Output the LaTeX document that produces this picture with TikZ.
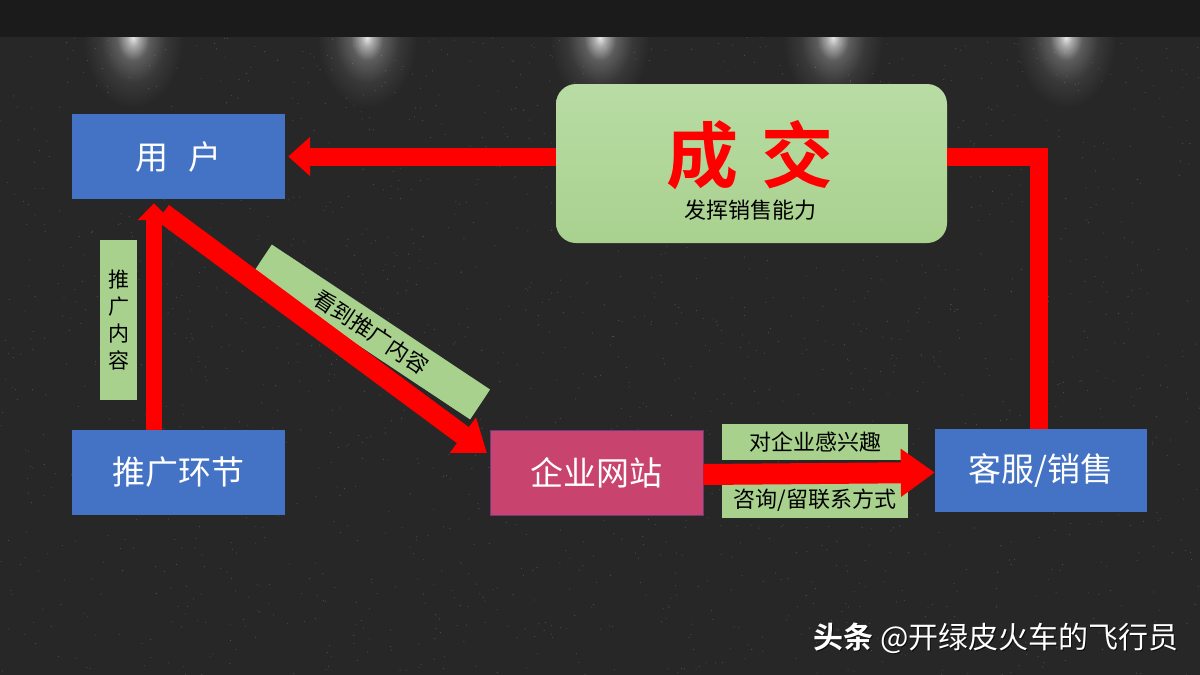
\documentclass[tikz,border=0pt]{standalone}
\usepackage{fontspec}
\setmainfont{Noto Sans CJK SC}[BoldFont={Noto Sans CJK SC Bold}]
\usetikzlibrary{arrows.meta}
\definecolor{bgc}{HTML}{272727}
\definecolor{topc}{HTML}{1B1B1B}
\definecolor{blueC}{HTML}{4472C4}
\definecolor{pinkC}{HTML}{C9436F}
\definecolor{greenC}{HTML}{A9D18E}
\definecolor{greenL}{HTML}{B8DCA4}
\definecolor{redC}{HTML}{FF0000}
\definecolor{edgeC}{HTML}{6A3D7A}
\pgfdeclareradialshading{glow}{\pgfpoint{0bp}{0bp}}{%
  color(0bp)=(white!88!bgc); color(3bp)=(white!60!bgc); color(8bp)=(white!25!bgc);
  color(16bp)=(white!8!bgc); color(25bp)=(bgc); color(50bp)=(bgc)}
\begin{document}
\begin{tikzpicture}[x=1pt,y=-1pt,
  box/.style={minimum width=213, minimum height=85, inner sep=0, text=white,
    font=\fontsize{33}{33}\selectfont},
  lab/.style={fill=greenC, inner sep=0, text=black, font=\fontsize{22}{22}\selectfont},
  fat/.style={draw=redC, line width=#1},
  fat/.default=18pt]
\useasboundingbox (0,0) rectangle (1200,675);
\fill[bgc] (0,0) rectangle (1200,675);
% spotlights
\begin{scope}
  \clip (0,37) rectangle (1200,140);
  \foreach \x in {133,367,600,833,1066}{
    \shade[shading=glow] (\x,38) ellipse (50 and 70);
  }
\end{scope}
% speckles
\pgfmathsetseed{7}
\foreach \i in {1,...,1800}{
  \fill[white, opacity=0.2] ({rnd*1200},{37+rnd*638}) circle (0.55);
}
\fill[topc] (0,0) rectangle (1200,37);

% nodes
\node[box, fill=blueC] (user) at (178.5,156.5) {用\hspace{0.6em}户};
\node[box, fill=blueC] (tg) at (178.5,472.5) {推广环节};
\node[box, fill=pinkC, draw=edgeC, line width=0.8pt] (web) at (596.5,472.5) {企业网站};
\node[box, fill=blueC, minimum width=212, minimum height=83] (kf) at (1041,470.5) {客服/销售};
\node[minimum width=391, minimum height=159, rounded corners=20, inner sep=0,
      top color=greenL, bottom color=greenC] (deal) at (751.5,163.5) {};
\node[text=redC, font=\fontsize{72}{72}\selectfont\bfseries] (dealt) at (750,155) {成\hspace{0.32em}交};
\node[font=\fontsize{22}{22}\selectfont] (dealsub) at (750,210) {发挥销售能力};

% labels
\node[lab, minimum width=37, minimum height=160, align=center,
      font=\fontsize{21}{27}\selectfont] (l1) at (118.5,320) {推\\广\\内\\容};
\node[lab, minimum width=262, minimum height=36, rotate=-33.6] (l2) at (371,332) {看到推广内容};
\node[lab, minimum width=186, minimum height=36] (l3) at (815,442) {对企业感兴趣};
\node[lab, minimum width=186, minimum height=36] (l4) at (815,500) {咨询/留联系方式};

% connectors
\coordinate (dstart) at (163,213);
\coordinate (dend) at (487,453);
\draw[fat=18pt, -{Triangle[width=38pt,length=22pt]}] (deal.west |- user.east) -- ([xshift=3pt]user.east);
\draw[fat=16pt, -{Triangle[width=32pt,length=17pt]}] ([xshift=-24.5pt]tg.north) -- ([xshift=-24.5pt,yshift=-4pt]user.south);
\draw[fat=20pt, -{Triangle[width=42pt,length=30pt]}, line cap=butt] (dstart) -- (dend);
\draw[fat=21pt, -{Triangle[width=46pt,length=34pt]}] ([yshift=-2pt]web.east) -- ([yshift=-2pt]kf.west);
\coordinate (corner) at (1039,157);
\draw[fat=18pt, line join=miter] ([xshift=-2pt]kf.north) -- (corner) -- (deal.east |- corner);

% watermark
\node[anchor=east, text=black, opacity=0.7, font=\fontsize{30}{30}\selectfont] (wms) at (1183.5,639.5)
  {{\bfseries 头条} @开绿皮火车的飞行员};
\node[anchor=east, text=white, font=\fontsize{30}{30}\selectfont] (wm) at (1182,638)
  {{\bfseries 头条} @开绿皮火车的飞行员};
\end{tikzpicture}
\end{document}
